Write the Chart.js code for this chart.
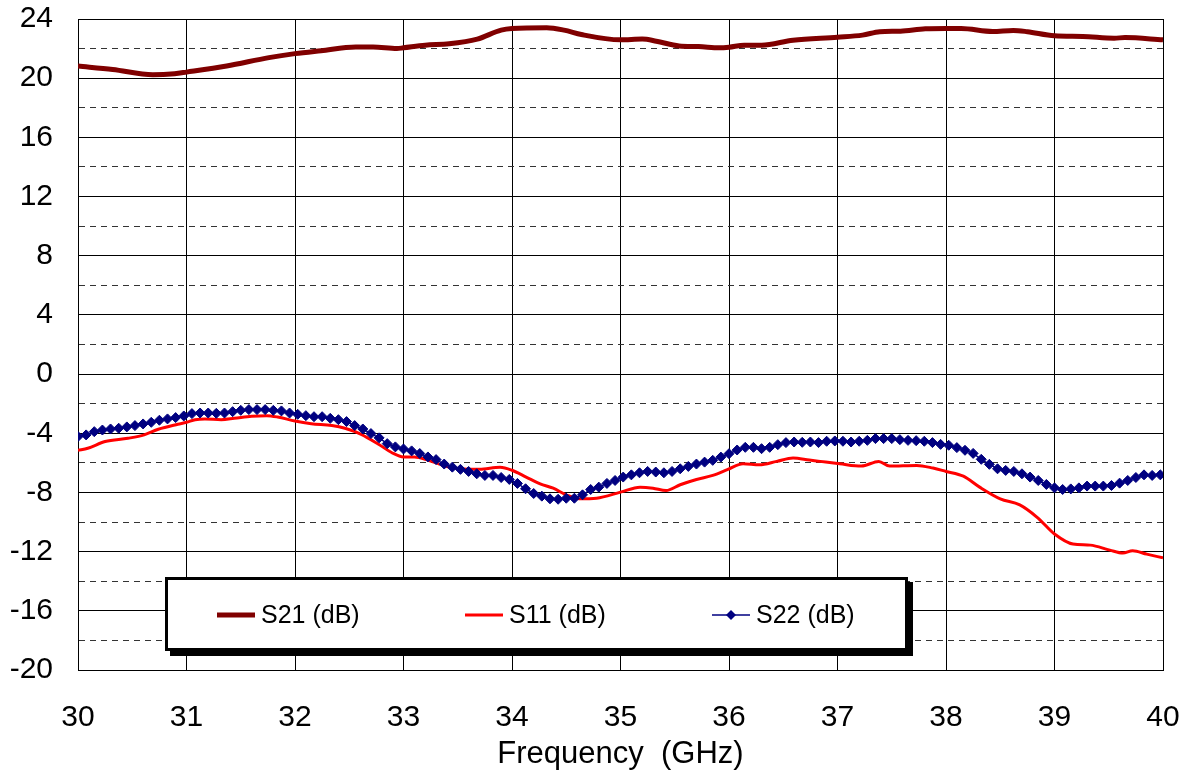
<!DOCTYPE html>
<html>
<head>
<meta charset="utf-8">
<script src="https://cdn.jsdelivr.net/npm/chart.js@4/dist/chart.umd.min.js"></script>
<style>
  body { margin: 0; background: #fff; }
  #wrap { position: relative; width: 1190px; height: 776px; }
  #legend {
    position: absolute; left: 165px; top: 577px; width: 737px; height: 68px;
    border: 3px solid #000; background: #fff; box-shadow: 5px 5px 0 #000;
    font-family: "Liberation Sans", Arial, sans-serif; font-size: 25px; color: #000;
  }
  .item { position: absolute; top: 20px; display: flex; align-items: center; }
  .item svg { margin-right: 6px; }
</style>
</head>
<body>
<div id="wrap">
  <canvas id="chart" width="1190" height="776"></canvas>
  <div id="legend"></div>
</div>
<script>
// S21 (dB)
const s21Freq = [30.0, 30.32, 30.69, 30.89, 31.0, 31.37, 31.76, 32.0, 32.24, 32.56, 32.72, 32.94, 33.0, 33.2, 33.42, 33.68, 33.9, 34.0, 34.32, 34.48, 34.64, 35.0,
  35.2, 35.33, 35.54, 35.72, 35.91, 36.0, 36.14, 36.3, 36.59, 37.0, 37.23, 37.39, 37.58, 37.81, 38.0, 38.14, 38.43, 38.62, 38.75, 39.0, 39.26, 39.55, 39.65, 40.0];
const s21Db = [20.82, 20.59, 20.23, 20.30, 20.41, 20.82, 21.39, 21.66, 21.86, 22.11, 22.11, 22.0, 22.05, 22.23, 22.32, 22.64, 23.25, 23.36, 23.41, 23.25, 22.95, 22.59,
  22.64, 22.5, 22.18, 22.14, 22.05, 22.09, 22.23, 22.23, 22.57, 22.77, 22.91, 23.14, 23.18, 23.34, 23.36, 23.36, 23.16, 23.23, 23.14, 22.86, 22.82, 22.7, 22.75, 22.59];

// S11 (dB)
const s11Freq = [30, 30.09, 30.25, 30.46, 30.61, 30.74, 30.92, 31.0, 31.08, 31.17, 31.32, 31.44, 31.6, 31.74, 31.84, 32.0, 32.15, 32.34, 32.46, 32.61, 32.77, 32.89,
  33.0, 33.1, 33.23, 33.41, 33.52, 33.7, 33.89, 34.0, 34.13, 34.26, 34.38, 34.5, 34.62, 34.78, 35.0, 35.18, 35.3, 35.42, 35.55, 35.7, 35.85, 35.99,
  36.13, 36.28, 36.44, 36.59, 36.74, 36.84, 37.02, 37.22, 37.38, 37.48, 37.73, 37.88, 38.0, 38.16, 38.31, 38.5, 38.68, 38.84, 39.0, 39.17, 39.33,
  39.51, 39.63, 39.72, 39.85, 40.0];
const s11Db = [-5.15, -5.01, -4.56, -4.34, -4.11, -3.73, -3.39, -3.26, -3.08, -3.03, -3.08, -2.99, -2.85, -2.81, -2.90, -3.17, -3.35, -3.48, -3.66, -4.07, -4.74, -5.30,
  -5.60, -5.60, -5.82, -6.27, -6.40, -6.44, -6.30, -6.50, -6.96, -7.42, -7.71, -8.16, -8.43, -8.39, -7.98, -7.64, -7.71, -7.87, -7.48, -7.12, -6.85, -6.44,
  -6.06, -6.13, -5.90, -5.67, -5.81, -5.90, -6.06, -6.22, -5.90, -6.22, -6.17, -6.35, -6.58, -6.90, -7.64, -8.43, -8.84, -9.68, -10.81, -11.49, -11.56,
  -11.90, -12.10, -11.94, -12.17, -12.42];

// S22 (dB), one value per marker
const s22Freq = [
  30, 30.075, 30.15, 30.225, 30.3, 30.375, 30.45, 30.525, 30.6, 30.675,
  30.75, 30.825, 30.9, 30.975, 31.05, 31.125, 31.2, 31.275, 31.35, 31.425,
  31.5, 31.575, 31.65, 31.725, 31.8, 31.875, 31.95, 32.025, 32.1, 32.175,
  32.25, 32.325, 32.4, 32.475, 32.55, 32.625, 32.7, 32.775, 32.85, 32.925,
  33, 33.075, 33.15, 33.225, 33.3, 33.375, 33.45, 33.525, 33.6, 33.675,
  33.75, 33.825, 33.9, 33.975, 34.05, 34.125, 34.2, 34.275, 34.35, 34.425,
  34.5, 34.575, 34.65, 34.725, 34.8, 34.875, 34.95, 35.025, 35.1, 35.175,
  35.25, 35.325, 35.4, 35.475, 35.55, 35.625, 35.7, 35.775, 35.85, 35.925,
  36, 36.075, 36.15, 36.225, 36.3, 36.375, 36.45, 36.525, 36.6, 36.675,
  36.75, 36.825, 36.9, 36.975, 37.05, 37.125, 37.2, 37.275, 37.35, 37.425,
  37.5, 37.575, 37.65, 37.725, 37.8, 37.875, 37.95, 38.025, 38.1, 38.175,
  38.25, 38.325, 38.4, 38.475, 38.55, 38.625, 38.7, 38.775, 38.85, 38.925,
  39, 39.075, 39.15, 39.225, 39.3, 39.375, 39.45, 39.525, 39.6, 39.675,
  39.75, 39.825, 39.9, 39.975];
const s22Db = [
  -4.22, -4.11, -3.89, -3.78, -3.71, -3.66, -3.57, -3.48, -3.37, -3.26,
  -3.12, -3.03, -2.94, -2.83, -2.67, -2.63, -2.63, -2.65, -2.63, -2.54,
  -2.45, -2.40, -2.40, -2.40, -2.45, -2.49, -2.63, -2.72, -2.81, -2.88,
  -2.88, -2.99, -3.08, -3.21, -3.48, -3.71, -4.02, -4.31, -4.70, -4.92,
  -5.06, -5.19, -5.37, -5.60, -5.78, -6.08, -6.29, -6.44, -6.58, -6.74,
  -6.85, -6.85, -6.99, -7.12, -7.39, -7.75, -8.07, -8.25, -8.43, -8.46,
  -8.39, -8.39, -8.16, -7.80, -7.64, -7.39, -7.19, -6.96, -6.81, -6.67,
  -6.58, -6.62, -6.67, -6.58, -6.40, -6.24, -6.08, -5.95, -5.83, -5.61,
  -5.38, -5.13, -4.95, -4.95, -5.04, -4.95, -4.77, -4.63, -4.59, -4.61,
  -4.59, -4.63, -4.54, -4.52, -4.54, -4.59, -4.54, -4.48, -4.36, -4.36,
  -4.36, -4.43, -4.48, -4.50, -4.54, -4.63, -4.75, -4.81, -4.97, -5.15,
  -5.36, -5.76, -6.10, -6.40, -6.51, -6.58, -6.74, -6.96, -7.19, -7.46,
  -7.69, -7.80, -7.76, -7.69, -7.57, -7.57, -7.57, -7.53, -7.37, -7.19,
  -6.99, -6.81, -6.85, -6.81];

const xTicks = { min: 30, max: 40, step: 1 };
const yTicks = { min: -20, max: 24, step: 2, labelEvery: 4 };

const FONT = '"Liberation Sans", Arial, sans-serif';
const pts = (xs, ys) => xs.map((x, i) => ({ x: x, y: ys[i] }));

const series = [
  { label: 'S21 (dB)', data: pts(s21Freq, s21Db), color: '#800000', width: 5, marker: false },
  { label: 'S11 (dB)', data: pts(s11Freq, s11Db), color: '#ff0000', width: 3, marker: false },
  { label: 'S22 (dB)', data: pts(s22Freq, s22Db), color: '#000080', width: 1.5, marker: true }
];

new Chart(document.getElementById('chart'), {
  type: 'line',
  data: {
    datasets: series.map(s => ({
      label: s.label,
      data: s.data,
      borderColor: s.color,
      backgroundColor: s.color,
      borderWidth: s.width,
      pointStyle: s.marker ? 'rectRot' : false,
      pointRadius: s.marker ? 5 : 0,
      pointBorderWidth: 1,
      pointBorderColor: s.color,
      pointBackgroundColor: s.color,
      tension: s.marker ? 0 : 0.4,
      cubicInterpolationMode: s.marker ? 'default' : 'monotone',
      order: s.marker ? -1 : 0,
      fill: false
    }))
  },
  options: {
    responsive: false,
    animation: false,
    devicePixelRatio: 1,
    layout: { padding: { top: 19, right: 27, left: 0, bottom: 0 } },
    plugins: { legend: { display: false }, tooltip: { enabled: false } },
    scales: {
      x: {
        type: 'linear',
        min: xTicks.min, max: xTicks.max,
        afterFit: s => { s.height = 106; s.paddingLeft = 0; s.paddingRight = 0; },
        ticks: { stepSize: xTicks.step, color: '#000', padding: 30, font: { family: FONT, size: 30 } },
        grid: { color: '#000', lineWidth: 1, drawTicks: false },
        border: { color: '#000', width: 1 },
        title: { display: true, text: 'Frequency  (GHz)', color: '#000', padding: { top: 0, bottom: 3 }, font: { family: FONT, size: 31 } }
      },
      y: {
        min: yTicks.min, max: yTicks.max,
        afterFit: s => { s.width = 78; s.paddingTop = 0; s.paddingBottom = 0; },
        ticks: {
          stepSize: yTicks.step, autoSkip: false, color: '#000', padding: 25,
          font: { family: FONT, size: 30 },
          callback: v => (v % yTicks.labelEvery === 0 ? v : '')
        },
        grid: {
          drawTicks: false, lineWidth: 1,
          color: c => (c.tick && c.tick.value % yTicks.labelEvery !== 0 ? '#333' : '#000')
        },
        border: {
          color: '#000', width: 1,
          dash: c => (c.tick && c.tick.value % yTicks.labelEvery !== 0 ? [6, 5] : [])
        }
      }
    }
  }
});

// legend box drawn inside the plot, like the original
const legend = document.getElementById('legend');
const itemX = [49, 297, 544];
series.forEach((s, i) => {
  const el = document.createElement('div');
  el.className = 'item';
  el.style.left = itemX[i] + 'px';
  const mk = s.marker ? '<polygon points="19,5 24,10 19,15 14,10" fill="' + s.color + '"/>' : '';
  el.innerHTML = '<svg width="38" height="20"><line x1="0" y1="10" x2="38" y2="10" stroke="' + s.color +
    '" stroke-width="' + s.width + '"/>' + mk + '</svg><span>' + s.label + '</span>';
  legend.appendChild(el);
});
</script>
</body>
</html>
